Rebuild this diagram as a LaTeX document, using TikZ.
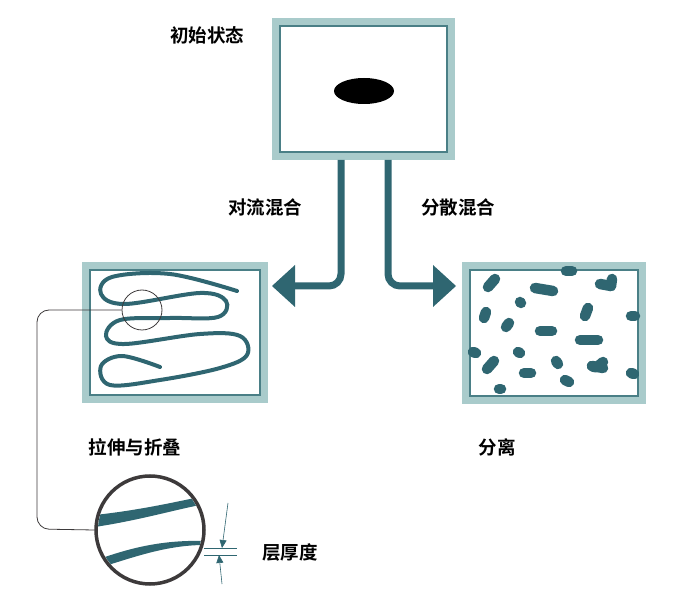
\documentclass[tikz,border=0pt]{standalone}
\usepackage{fontspec}
\newfontfamily\cjk{Noto Sans CJK SC}[BoldFont=* Bold]
\usetikzlibrary{arrows.meta}
\definecolor{teal1}{HTML}{2F6671}
\definecolor{lite}{HTML}{A9CBCB}
\definecolor{inl}{HTML}{4A7F86}
\definecolor{ring}{HTML}{3D3A3B}
\begin{document}
\begin{tikzpicture}[x=1pt,y=-1pt,
  lbl/.style={font=\cjk\bfseries\fontsize{18.5}{20}\selectfont,inner sep=0pt},
  frame/.style={draw=lite,line width=7pt},
  innerf/.style={draw=inl,line width=1.2pt},
  flow/.style={draw=teal1,line width=7pt,rounded corners=12pt},
  blob/.style={draw=teal1,line width=10.5pt,line cap=round,line join=round},
  swirl/.style={draw=teal1,line width=4pt,line cap=round}]
\useasboundingbox (0,0) rectangle (686,609);
% boxes
\foreach \n/\a/\b/\c/\d in {top/272/18/455/160, lft/82/262/268/403, rgt/462/262/646/404}{
  \draw[frame] (\a+3.5,\b+3.5) rectangle (\c-3.5,\d-3.5);
  \draw[innerf] (\a+8,\b+8) rectangle (\c-8,\d-8);
  \coordinate (\n) at ({(\a+\c)/2},{(\b+\d)/2});
}
\fill[black] (364,91) ellipse [x radius=30,y radius=13];
% flows
\draw[flow] (341,160) -- (341,286) -- (290,286);
\fill[teal1] (272,286) -- (295,265) -- (295,307) -- cycle;
\draw[flow] (388,160) -- (388,286) -- (438,286);
\fill[teal1] (456,286) -- (433,265) -- (433,307) -- cycle;
% labels
\node[lbl] (l1) at (207,35) {初始状态};
\node[lbl] (l2) at (265,207) {对流混合};
\node[lbl] (l3) at (458,207) {分散混合};
\node[lbl] (l4) at (135,447) {拉伸与折叠};
\node[lbl] (l5) at (497,447) {分离};
\node[lbl] (l6) at (290,553) {层厚度};
% swirl
\draw[swirl] plot[smooth,tension=0.6] coordinates {(237,291) (170,274) (112,277) (101,294) (125,304) (200,293) (226,301) (218,317) (170,318) (120,320) (106,336) (125,344) (200,334) (240,336) (247,355) (220,368) (160,380) (110,385) (101,366) (122,356) (160,367)};
% blobs
\foreach \p/\q in {{(488,287)}/{(495,279)}, {(535,288)}/{(553,291)}, {(566,271)}/{(572,271)}, {(600,284)}/{(611,286)}, {(520,302)}/{(521,303)}, {(484,318)}/{(486,312)}, {(585,316)}/{(588,308)}, {(631,316)}/{(635,316)}, {(506,327)}/{(509,323)}, {(540,331)}/{(552,331)}, {(580,340)}/{(598,340)}, {(473,352)}/{(476,353)}, {(518,352)}/{(520,353)}, {(487,369)}/{(494,361)}, {(556,361)}/{(558,364)}, {(592,366)}/{(603,368)}, {(524,373)}/{(531,373)}, {(631,373)}/{(634,374)}, {(565,380)}/{(569,382)}, {(499,389)}/{(501,389)}}
  \draw[blob] \p -- \q;
\draw[blob] (611,286) -- (612,279);
\draw[blob] (592,366) .. controls (596,368) .. (603,362);
% zoom indicator
\node[draw=ring,circle,minimum size=40pt,inner sep=0pt,line width=0.8pt] (sc) at (142,310) {};
\node[draw=ring,circle,minimum size=108pt,inner sep=0pt,line width=3.5pt] (bc) at (150,530) {};
\begin{scope}
\clip (150,530) circle (52);
\fill[teal1] (95,515) .. controls (140,510) and (170,503) .. (200,497) -- (200,505) .. controls (170,511) and (140,520) .. (95,527) -- cycle;
\fill[teal1] (105,557) .. controls (140,545) and (170,540) .. (205,541) -- (205,545) .. controls (170,545) and (140,555) .. (105,566) -- cycle;
\end{scope}
\draw[ring,line width=0.8pt,rounded corners=12pt] (sc.west) -- (37,310) -- (37,529) -- (bc.west);
% thickness marks
\coordinate (t1) at (204,548); \coordinate (t2) at (237,548);
\coordinate (t3) at (204,555); \coordinate (t4) at (237,555);
\draw[teal1,line width=0.6pt] (t1) -- (t2) (t3) -- (t4);
\coordinate (a1) at (228,503); \coordinate (a2) at (222,584);
\draw[teal1,line width=0.6pt,-{Triangle[length=8pt,width=7pt]}] (a1) -- (222,548);
\draw[teal1,line width=0.6pt,-{Triangle[length=8pt,width=7pt]}] (a2) -- (219,555);
\end{tikzpicture}
\end{document}
